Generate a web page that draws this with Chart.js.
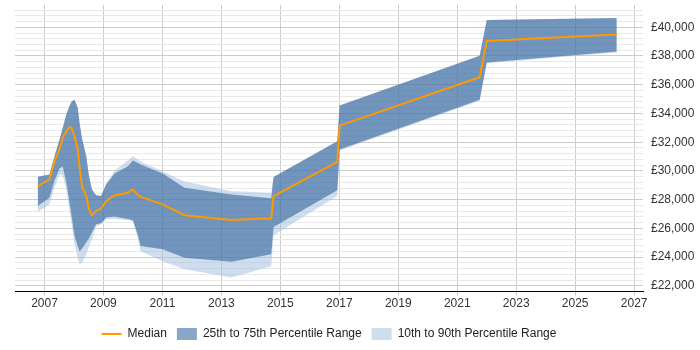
<!DOCTYPE html>
<html lang="en">
<head>
  <meta charset="UTF-8" />
  <title>Salary trend</title>
  <script src="https://cdn.jsdelivr.net/npm/chart.js"></script>
  <style>
    html, body {
      margin: 0;
      padding: 0;
      background: #fff;
    }

    .chart-box {
      position: relative;
      width: 700px;
      height: 350px;
    }
  </style>
</head>
<body>
  <div class="chart-box">
    <canvas id="salaryChart"></canvas>
  </div>
  <script>
    // sample dates (decimal years) shared by every series
    const dates = [2006.77, 2007.17, 2007.34, 2007.51, 2007.62, 2007.74, 2007.85, 2007.92, 2008.02, 2008.13,
      2008.19, 2008.28, 2008.42, 2008.50, 2008.61, 2008.75, 2008.92, 2009.09, 2009.38, 2009.83,
      2010.00, 2010.17, 2010.26, 2011.01, 2011.75, 2013.34, 2014.69, 2014.77, 2016.93, 2017.01,
      2021.76, 2022.00, 2026.41];

    const median = [28940, 29400, 30680, 31490, 32300, 32740, 33060, 32980, 32410, 31490,
      30240, 28850, 28250, 27390, 26910, 27210, 27370, 27900, 28300, 28480,
      28710, 28300, 28190, 27670, 26910, 26580, 26700, 28250, 30630, 33150,
      36520, 39050, 39490];

    const p75 = [29590, 29750, 31020, 32180, 33010, 33920, 34540, 34840, 34960, 34380,
      33340, 32180, 31000, 29750, 28710, 28300, 28250, 29060, 29820, 30330,
      30720, 30560, 30450, 29820, 28830, 28360, 28090, 29570, 32060, 34560,
      38010, 40510, 40650];

    const p25 = [27550, 28140, 29340, 30170, 30310, 29200, 27810, 26840, 25470, 24760,
      24390, 24620, 25030, 25280, 25730, 26280, 26350, 26750, 26820, 26660,
      26560, 25520, 24780, 24550, 23960, 23670, 24200, 26100, 28660, 31490,
      34960, 37550, 38310];

    const p90 = [29590, 29750, 31020, 32180, 33010, 33920, 34540, 34840, 34960, 34380,
      33340, 32180, 31000, 29750, 28710, 28300, 28250, 29130, 30030, 30740,
      31020, 30790, 30650, 29960, 29270, 28590, 28480, 29570, 32060, 34560,
      38010, 40510, 40650];

    const p10 = [27160, 27670, 28850, 29750, 29680, 28710, 27180, 26280, 24890, 23920,
      23510, 23650, 24200, 24690, 25240, 26140, 26280, 26630, 26660, 26560,
      26490, 25240, 24410, 23710, 23160, 22580, 23370, 25520, 28250, 31420,
      34890, 37490, 38250];

    const xTicks = [2007, 2009, 2011, 2013, 2015, 2017, 2019, 2021, 2023, 2025, 2027];
    const yTicks = [22000, 24000, 26000, 28000, 30000, 32000, 34000, 36000, 38000, 40000];

    const FONT = { family: "'Liberation Sans', Arial, sans-serif", size: 12 };

    function points(values) {
      return dates.map((d, i) => ({ x: d, y: values[i] }));
    }

    function renderChart() {
      const ctx = document.getElementById("salaryChart");

      new Chart(ctx, {
        type: "line",
        data: {
          datasets: [
            {
              label: "Median",
              data: points(median),
              borderColor: "#ff9900",
              backgroundColor: "#ff9900",
              borderWidth: 2,
              pointRadius: 0,
              pointStyle: "line",
              fill: false
            },
            {
              label: "25th to 75th Percentile Range",
              data: points(p75),
              backgroundColor: "rgba(21, 77, 141, 0.5)",
              borderWidth: 0,
              pointRadius: 0,
              pointStyle: "rect",
              fill: "+1"
            },
            {
              label: "p25",
              data: points(p25),
              borderWidth: 0,
              pointRadius: 0,
              fill: false
            },
            {
              label: "10th to 90th Percentile Range",
              data: points(p90),
              backgroundColor: "rgba(159, 189, 221, 0.5)",
              borderWidth: 0,
              pointRadius: 0,
              pointStyle: "rect",
              fill: "+1"
            },
            {
              label: "p10",
              data: points(p10),
              borderWidth: 0,
              pointRadius: 0,
              fill: false
            }
          ]
        },
        options: {
          responsive: true,
          maintainAspectRatio: false,
          animation: false,
          layout: {
            padding: { top: 5, right: 5, left: 15, bottom: 0 }
          },
          elements: {
            line: { tension: 0 }
          },
          plugins: {
            tooltip: { enabled: false },
            legend: {
              position: "bottom",
              fullSize: false,
              labels: {
                usePointStyle: true,
                pointStyleWidth: 20,
                boxHeight: 12,
                padding: 10,
                color: "#222",
                font: FONT,
                filter: (item) => item.datasetIndex !== 2 && item.datasetIndex !== 4
              }
            }
          },
          scales: {
            x: {
              type: "linear",
              min: 2006,
              max: 2027.3,
              afterBuildTicks: (scale) => {
                scale.ticks = xTicks.map((v) => ({ value: v }));
              },
              afterFit: (scale) => {
                scale.height += 6;
              },
              ticks: {
                autoSkip: false,
                maxRotation: 0,
                padding: 1,
                color: "#333",
                font: FONT,
                callback: (v) => String(v)
              },
              grid: {
                color: "#cccccc",
                tickLength: 4
              },
              border: {
                color: "#000",
                width: 1
              }
            },
            y: {
              position: "right",
              min: 21600,
              max: 41550,
              afterBuildTicks: (scale) => {
                const ticks = [];
                for (let v = 21600; v <= 41200; v += 400) ticks.push({ value: v });
                scale.ticks = ticks;
              },
              afterFit: (scale) => {
                scale.width = 52;
                scale.paddingTop = 0;
                scale.paddingBottom = 0;
              },
              ticks: {
                autoSkip: false,
                padding: 8,
                color: "#333",
                font: FONT,
                callback: (v) => yTicks.includes(v) ? "£" + v.toLocaleString("en-GB") : ""
              },
              grid: {
                drawTicks: false,
                color: (c) => yTicks.includes(c.tick && c.tick.value) ? "#cccccc" : "#e8e8e8"
              },
              border: {
                display: false
              }
            }
          }
        }
      });
    }

    renderChart();
  </script>
</body>
</html>
